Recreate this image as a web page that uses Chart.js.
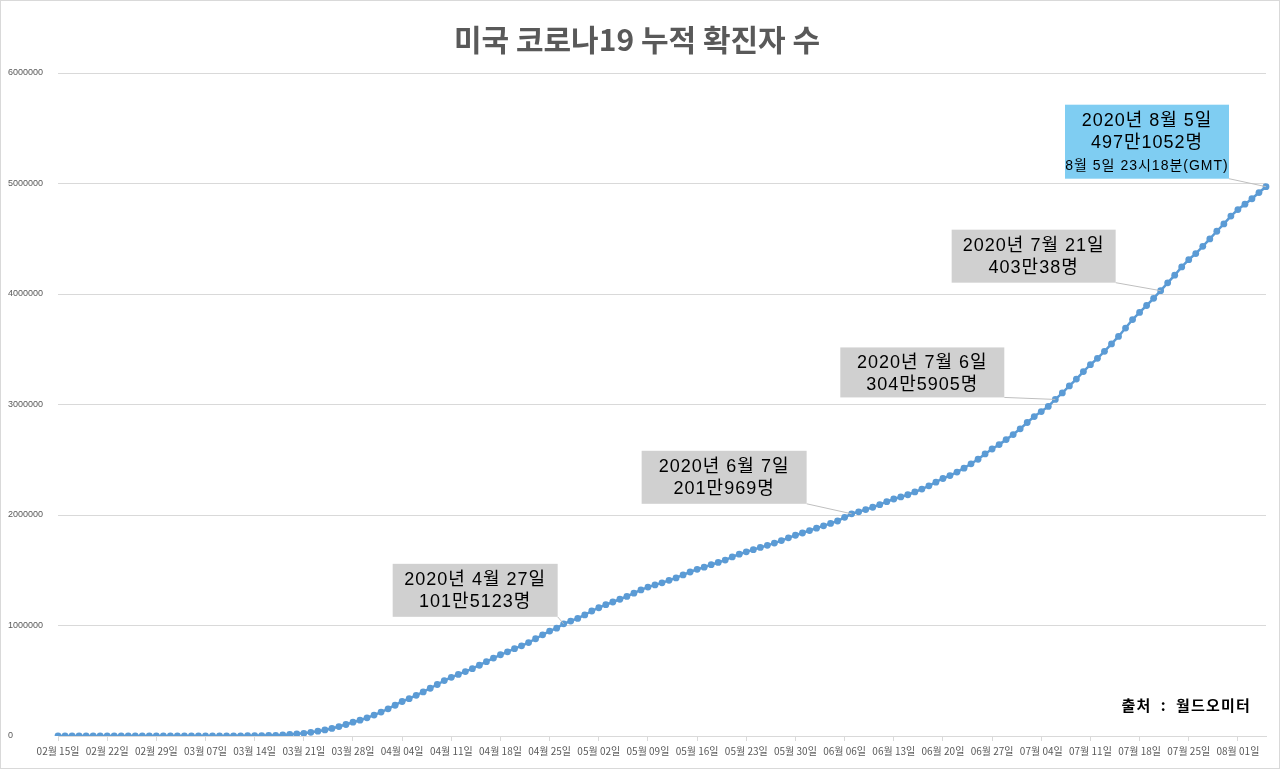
<!DOCTYPE html>
<html>
<head>
<meta charset="utf-8">
<script src="https://cdn.jsdelivr.net/npm/chart.js@4/dist/chart.umd.min.js"></script>
<style>
  body { margin: 0; background: #fff; }
  #wrap { width: 1280px; height: 769px; box-sizing: border-box; border: 1px solid #d9d9d9; }
  canvas { display: block; }
</style>
</head>
<body>
<div id="wrap"><canvas id="myChart" width="1278" height="767"></canvas></div>
<script>
// 미국 누적 확진자 (2020.02.15 ~ 2020.08.05, 일별)
const startDate = new Date(2020, 1, 15);
const dayCount = 173;

const cases = [
    // 2월 15일 ~ 29일
    15, 15, 15, 15, 15, 15, 35, 35, 35, 53, 57, 60, 60, 62, 68,
    // 3월
    75, 100, 124, 158, 221, 319, 435, 541, 704, 994, 1301, 1630, 2183, 2770, 3613, 4596,
    6344, 9197, 13779, 19367, 24192, 33592, 43781, 54856, 68211, 85435, 104126, 124686,
    143055, 164620, 189618,
    // 4월
    216721, 245540, 278458, 312245, 337635, 368196, 398809, 432132, 466033, 501615,
    530830, 557590, 582594, 609516, 640291, 672303, 704809, 735086, 761991, 790188,
    816264, 845185, 880204, 915630, 949292, 975970, 1015123, 1040488, 1064194, 1095304,
    // 5월
    1131030, 1160774, 1188122, 1212835, 1237633, 1263092, 1292623, 1321785, 1347309, 1367638,
    1385834, 1408636, 1430348, 1457593, 1484285, 1508308, 1527664, 1550294, 1570583, 1591991,
    1620902, 1645094, 1666828, 1686436, 1706226, 1725275, 1745803, 1768461, 1793530, 1816820,
    1837170,
    // 6월
    1859323, 1881205, 1901783, 1924051, 1945500, 1979000, 2010969, 2029162, 2048986, 2070004,
    2093335, 2120224, 2145004, 2163339, 2183150, 2208428, 2234475, 2263651, 2297190, 2330327,
    2356655, 2388153, 2424168, 2463266, 2504588, 2552940, 2597336, 2637077, 2682270, 2727853,
    // 7월
    2779953, 2837189, 2891124, 2936077, 2982928, 3045905, 3105135, 3168441, 3230000, 3298000,
    3360000, 3418000, 3481000, 3548000, 3616000, 3692000, 3769000, 3833000, 3896000, 3961000,
    4030038, 4101000, 4170000, 4245000, 4311000, 4366000, 4431000, 4498000, 4568000, 4634000,
    4705000,
    // 8월 1일 ~ 5일
    4764000, 4813000, 4862000, 4918000, 4971052
];

const yTicks = [0, 1000000, 2000000, 3000000, 4000000, 5000000, 6000000];

// 날짜 라벨
const labels = [];
for (let i = 0; i < dayCount; i++) {
    const d = new Date(startDate.getFullYear(), startDate.getMonth(), startDate.getDate() + i);
    const mm = String(d.getMonth() + 1).padStart(2, '0');
    const dd = String(d.getDate()).padStart(2, '0');
    labels.push(mm + '월 ' + dd + '일');
}

// 말풍선 (index = 날짜 위치)
const notes = [
    { index: 72,  lines: ['2020년 4월 27일', '101만5123명'] },
    { index: 113, lines: ['2020년 6월 7일', '201만969명'] },
    { index: 142, lines: ['2020년 7월 6일', '304만5905명'] },
    { index: 157, lines: ['2020년 7월 21일', '403만38명'] },
    { index: 172, lines: ['2020년 8월 5일', '497만1052명', '8월 5일 23시18분(GMT)'] }
];
// 말풍선 모양 (점 기준 오프셋)
const noteStyle = [
    { dx: -6,  dy: -7,  w: 165, h: 53, bg: '#d0d0d0' },
    { dx: -45, dy: -10, w: 165, h: 53, bg: '#d0d0d0' },
    { dx: -51, dy: -2,  w: 164, h: 50, bg: '#d0d0d0' },
    { dx: -45, dy: -8,  w: 164, h: 53, bg: '#d0d0d0' },
    { dx: -37, dy: -8,  w: 164, h: 74, bg: '#7fcdf2' }
];

const FONT = '"Liberation Sans", "Noto Sans CJK KR", sans-serif';
const KFONT = '"Noto Sans CJK KR", sans-serif';

const notePlugin = {
    id: 'notes',
    afterDatasetsDraw(chart) {
        const c = chart.ctx;
        const meta = chart.getDatasetMeta(0);
        notes.forEach((n, k) => {
            const s = noteStyle[k];
            const pt = meta.data[n.index];
            const right = pt.x + s.dx;
            const bottom = pt.y + s.dy;
            const left = right - s.w;
            const top = bottom - s.h;
            c.save();
            c.strokeStyle = '#bfbfbf';
            c.lineWidth = 1;
            c.beginPath();
            c.moveTo(right, bottom);
            c.lineTo(pt.x, pt.y);
            c.stroke();
            c.fillStyle = s.bg;
            c.fillRect(left, top, s.w, s.h);
            c.fillStyle = '#000';
            c.textAlign = 'center';
            c.textBaseline = 'middle';
            c.letterSpacing = '1px';
            const cx = left + s.w / 2;
            c.font = '18px ' + FONT;
            c.fillText(n.lines[0], cx, top + 16);
            c.fillText(n.lines[1], cx, top + 38);
            if (n.lines[2]) {
                c.font = '14px ' + FONT;
                c.fillText(n.lines[2], cx, top + 61);
            }
            c.restore();
        });
        // 출처
        c.save();
        c.font = 'bold 15px ' + KFONT;
        c.letterSpacing = '1.2px';
        c.fillStyle = '#000';
        c.textAlign = 'right';
        c.textBaseline = 'middle';
        c.fillText('출처  :  월드오미터', 1250, 704);
        c.restore();
    }
};

let ctx = document.getElementById('myChart').getContext('2d');
let chart = new Chart(ctx, {
    type: 'line',
    data: {
        labels: labels,
        datasets: [{
            data: cases,
            borderColor: '#5b9bd5',
            backgroundColor: '#5b9bd5',
            borderWidth: 2.5,
            pointRadius: 3.4,
            pointBorderWidth: 0,
            pointBackgroundColor: '#5b9bd5',
            tension: 0
        }]
    },
    options: {
        responsive: false,
        animation: false,
        devicePixelRatio: 1,
        layout: { padding: { left: 7, right: 13, top: 0, bottom: 7 } },
        plugins: {
            legend: { display: false },
            tooltip: { enabled: false },
            title: {
                display: true,
                text: '미국 코로나19 누적 확진자 수',
                color: '#595959',
                font: { family: KFONT, size: 30, weight: 'bold' },
                padding: { top: 21, bottom: 15 }
            }
        },
        scales: {
            x: {
                offset: false,
                border: { display: true, color: '#d9d9d9' },
                grid: {
                    drawOnChartArea: false,
                    drawTicks: true,
                    tickLength: 5,
                    color: (c) => (c.index % 7 === 0 ? '#d9d9d9' : 'rgba(0,0,0,0)')
                },
                ticks: {
                    autoSkip: false,
                    maxRotation: 0,
                    padding: 4,
                    color: '#595959',
                    font: { family: KFONT, size: 10 },
                    callback: (v, i) => (i % 7 === 0 ? labels[i] : '')
                }
            },
            y: {
                min: 0,
                max: 6000000,
                afterFit: (scale) => { scale.width = 50; },
                afterBuildTicks: (scale) => { scale.ticks = yTicks.map(v => ({ value: v })); },
                border: { display: false },
                grid: { color: '#d9d9d9', drawTicks: false },
                ticks: {
                    crossAlign: 'far',
                    color: '#595959',
                    font: { family: FONT, size: 9 },
                    callback: (v) => String(v)
                }
            }
        }
    },
    plugins: [notePlugin]
});
</script>
</body>
</html>
